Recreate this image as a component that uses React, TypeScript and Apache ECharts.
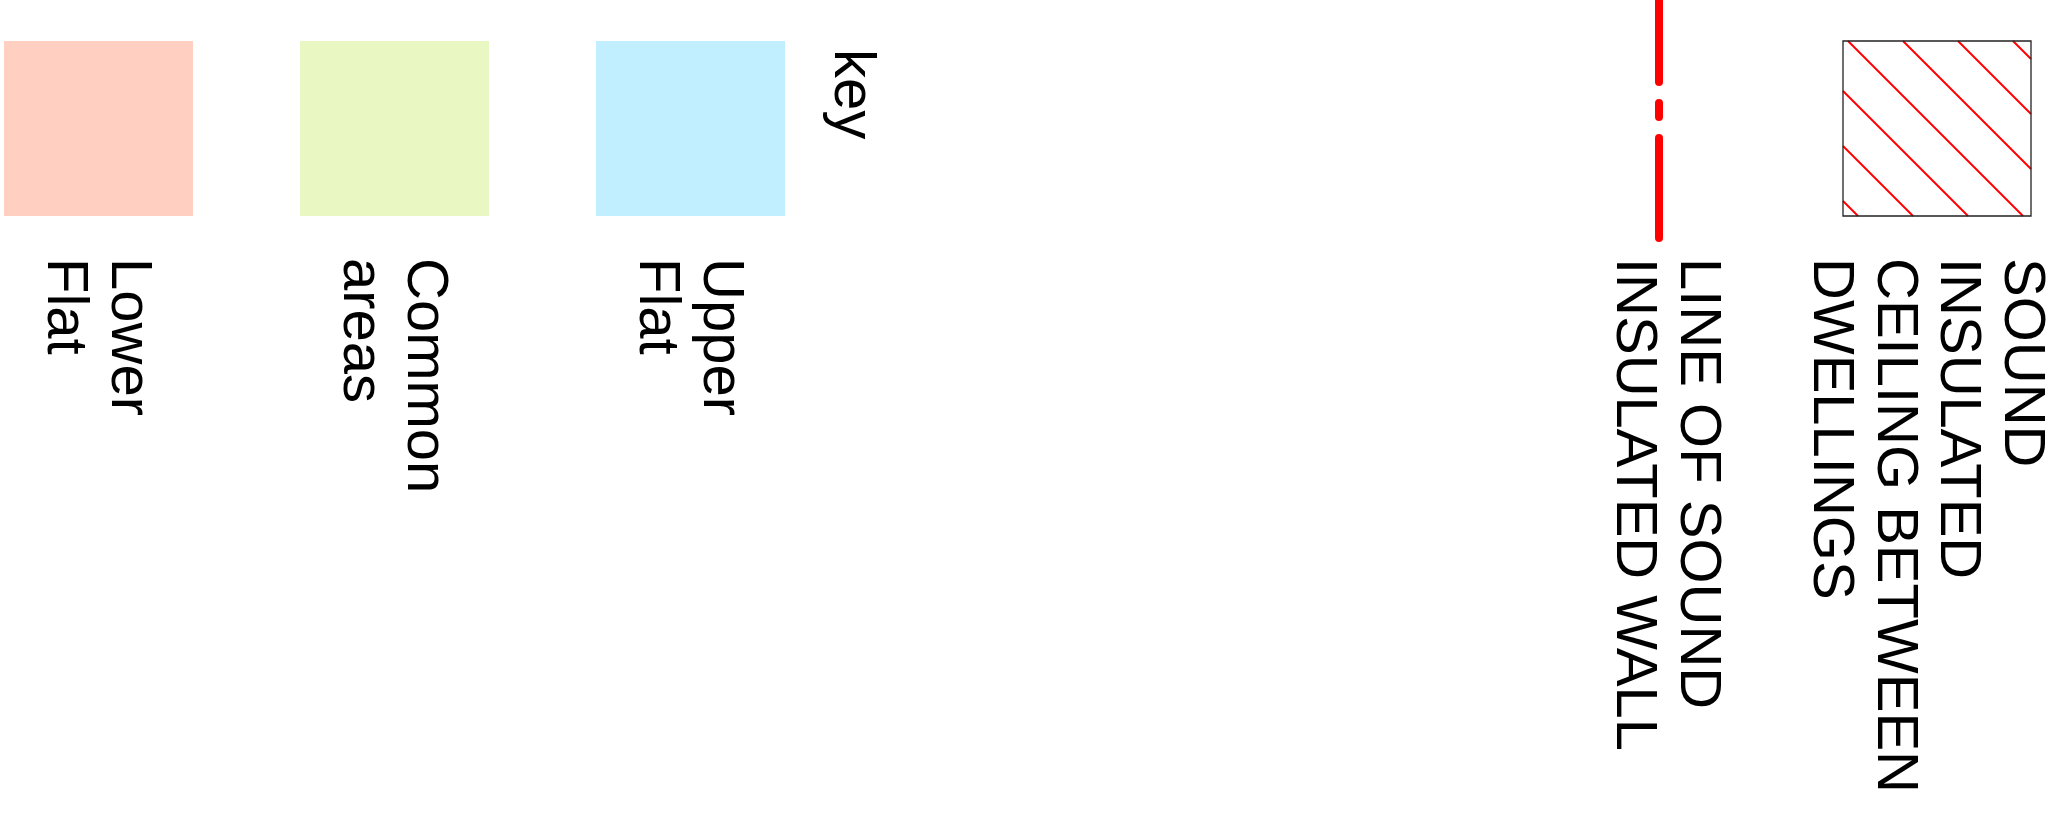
import React, { useEffect, useRef } from "react";
import * as echarts from "echarts";

// ---- data ----
const keyTitle = "key";
const areaLabels: string[][] = [
  ["Lower", "Flat"],
  ["Common", "areas"],
  ["Upper", "Flat"],
];
const areaColors: string[] = ["#FFD0C2", "#E9F8C3", "#C1EFFF"];
const wallLabel: string[] = ["LINE OF SOUND", "INSULATED WALL"];
const ceilingLabel: string[] = ["SOUND", "INSULATED", "CEILING BETWEEN", "DWELLINGS"];
const wallColor = "#FF0000";
const hatchColor = "#FF0000";

// ---- layout ----
const W = 2055;
const H = 828;
const FONT = 58;
const LINE_GAP = 64;
const SW_TOP = 41;
const SW_H = 175;
const SW_W = 189;
const SW_X0 = 4;
const SW_STEP = 296;
const LABEL_Y = 258;

function vText(lines: string[], xFirst: number, y: number, gap: number = LINE_GAP): any[] {
  return lines.map((t, i) => ({
    type: "text",
    x: xFirst - i * gap,
    y,
    rotation: -Math.PI / 2,
    silent: true,
    style: {
      text: t,
      fill: "#000",
      fontSize: FONT,
      lineHeight: 40,
      fontFamily: "Liberation Sans, Arial, sans-serif",
      textAlign: "left",
      textVerticalAlign: "middle",
      align: "left",
      verticalAlign: "middle",
    },
  }));
}

function hatchLines(x0: number, y0: number, x1: number, y1: number, first: number, step: number): any[] {
  const out: any[] = [];
  // lines x - y = c
  const cMin = x0 - y1;
  const cMax = x1 - y0;
  const c0 = x0 - y0 + first;
  let k = Math.ceil((cMin - c0) / step);
  for (; c0 + k * step < cMax; k++) {
    const c = c0 + k * step;
    let sx = c + y0, sy = y0;
    if (sx < x0) { sx = x0; sy = x0 - c; }
    let ex = c + y1, ey = y1;
    if (ex > x1) { ex = x1; ey = x1 - c; }
    out.push({
      type: "line",
      silent: true,
      shape: { x1: sx, y1: sy, x2: ex, y2: ey },
      style: { stroke: hatchColor, lineWidth: 2 },
    });
  }
  return out;
}

export default function App() {
  const ref = useRef<HTMLDivElement>(null);
  useEffect(() => {
    document.body.style.margin = "0";
    if (!ref.current) return;
    const chart = echarts.init(ref.current, undefined, { renderer: "svg", width: W, height: H });
    const elements: any[] = [];

    areaColors.forEach((c, i) => {
      const x = SW_X0 + i * SW_STEP;
      elements.push({
        type: "rect",
        silent: true,
        shape: { x, y: SW_TOP, width: SW_W, height: SW_H },
        style: { fill: c },
      });
      elements.push(...vText(areaLabels[i], x + 128.5, LABEL_Y));
    });

    elements.push(...vText([keyTitle], 855, 49));

    // sound insulated wall line (dash-dot)
    elements.push({
      type: "line",
      silent: true,
      shape: { x1: 1659, y1: 238, x2: 1659, y2: -40 },
      style: { stroke: wallColor, lineWidth: 8, lineCap: "round", lineDash: [100, 21, 14, 21] },
    });
    elements.push(...vText(wallLabel, 1701.5, LABEL_Y));

    // hatched ceiling box
    const bx0 = 1843, by0 = 41, bx1 = 2031, by1 = 216;
    elements.push(...hatchLines(bx0, by0, bx1, by1, 5, 55));
    elements.push({
      type: "rect",
      silent: true,
      shape: { x: bx0, y: by0, width: bx1 - bx0, height: by1 - by0 },
      style: { fill: "none", stroke: "#222", lineWidth: 1.3 },
    });
    elements.push(...vText(ceilingLabel, 2025, LABEL_Y, 63.5));

    chart.setOption({
      animation: false,
      backgroundColor: "#fff",
      graphic: { elements },
    });
    return () => chart.dispose();
  }, []);
  return <div ref={ref} style={{ position: "fixed", left: 0, top: 0, width: W, height: H }} />;
}
